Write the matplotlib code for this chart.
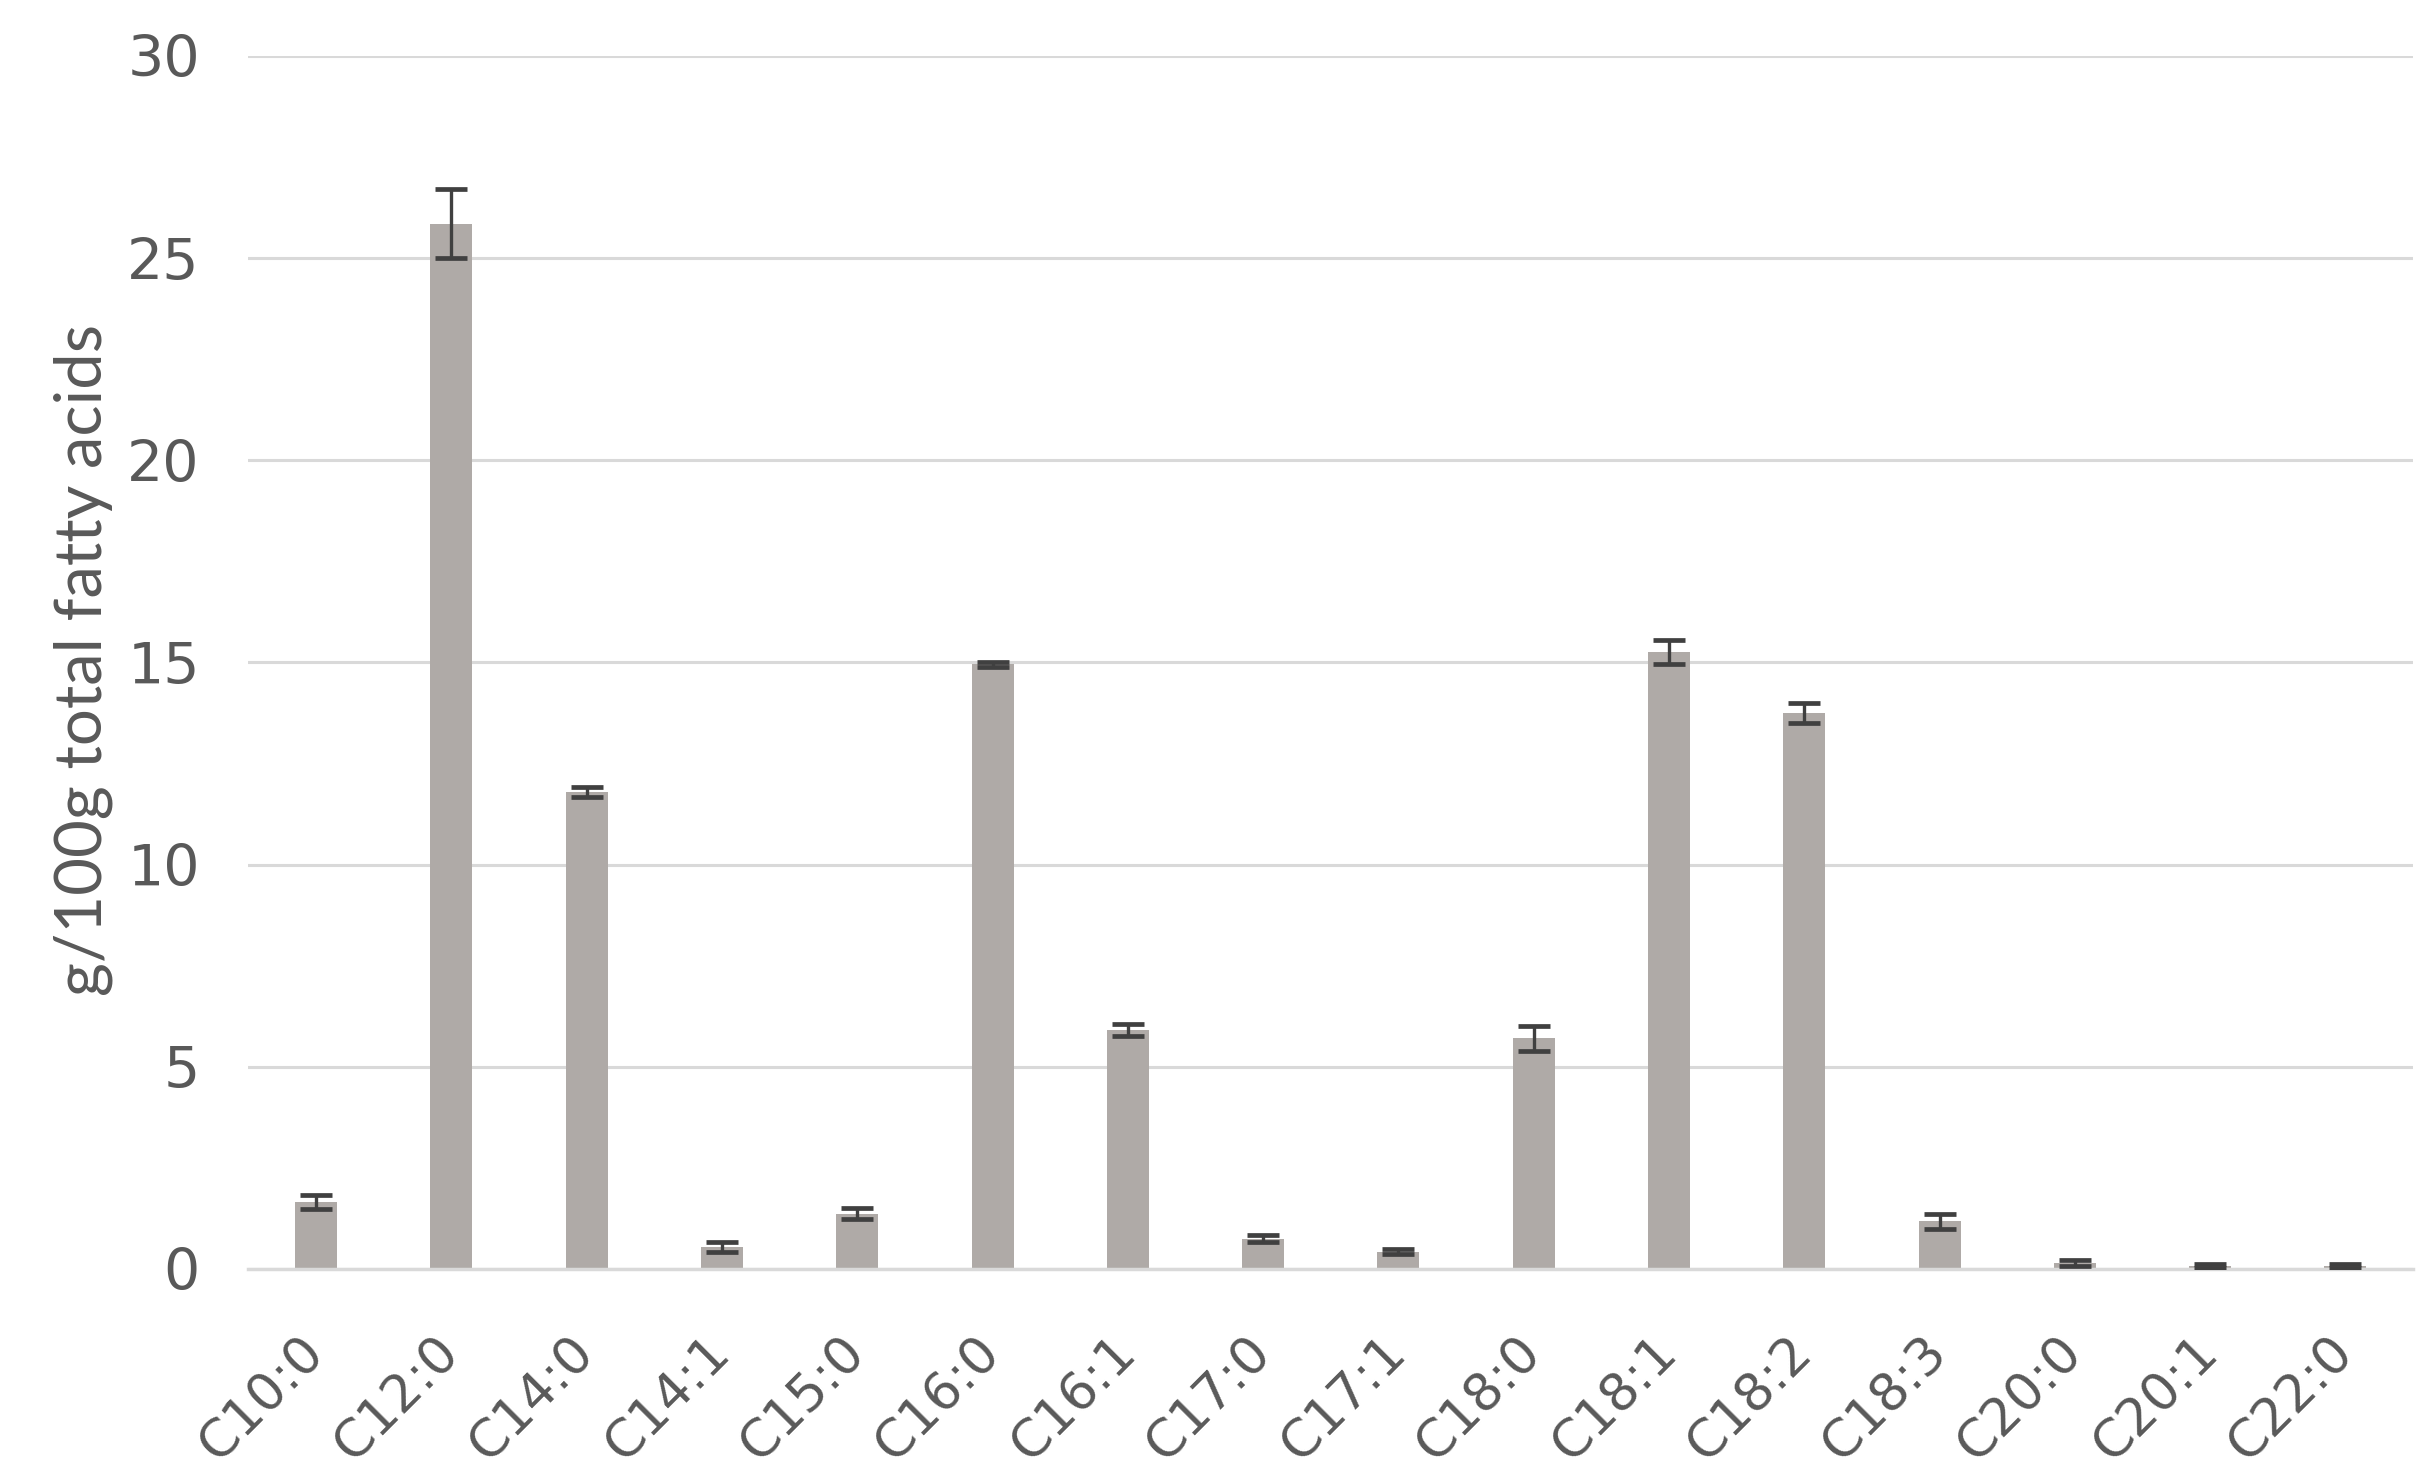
import matplotlib
matplotlib.use("Agg")
import matplotlib.pyplot as plt
import numpy as np

categories = ["C10:0", "C12:0", "C14:0", "C14:1", "C15:0", "C16:0", "C16:1", "C17:0",
              "C17:1", "C18:0", "C18:1", "C18:2", "C18:3", "C20:0", "C20:1", "C22:0"]
values = [1.65, 25.85, 11.8, 0.55, 1.37, 14.95, 5.9, 0.75,
          0.43, 5.7, 15.25, 13.75, 1.18, 0.15, 0.08, 0.08]
errors = [0.17, 0.85, 0.13, 0.12, 0.13, 0.05, 0.15, 0.08,
          0.07, 0.3, 0.3, 0.25, 0.18, 0.08, 0.05, 0.05]
yticks = [0, 5, 10, 15, 20, 25, 30]
ylabel = "g/100g total fatty acids"

text_color = "#595959"
grid_color = "#D9D9D9"
bar_color = "#AFAAA7"
err_color = "#404040"

fig = plt.figure(figsize=(24.36, 14.84), dpi=100)
ax = fig.add_axes([0.102, 0.1449, 0.8886, 0.8174])

x = np.arange(len(categories))
ax.bar(x, values, width=0.31, color=bar_color, zorder=2)
ax.errorbar(x, values, yerr=errors, fmt="none", ecolor=err_color,
            elinewidth=2.4, capsize=11.5, capthick=3.4, zorder=3)

ax.set_xlim(-0.5, len(categories) - 0.5)
ax.set_ylim(0, 30)
ax.set_yticks(yticks)
ax.set_yticklabels([str(t) for t in yticks], fontsize=41, color=text_color,
                   family="DejaVu Sans")
ax.set_xticks(x)
ax.set_xticklabels(categories, rotation=45, ha="right", va="center",
                   rotation_mode="anchor", fontsize=37.5, color=text_color,
                   family="DejaVu Sans")
ax.tick_params(axis="y", length=0, pad=35)
ax.tick_params(axis="x", length=0, pad=55)

ax.yaxis.grid(True, color=grid_color, linewidth=2.2, zorder=0)
ax.set_axisbelow(True)
for s in ["top", "right", "left"]:
    ax.spines[s].set_visible(False)
ax.spines["bottom"].set_color(grid_color)
ax.spines["bottom"].set_linewidth(2.5)

fig.text(83 / 2436, 1 - 660 / 1484, ylabel, rotation=90, ha="center", va="center",
         fontsize=47, color=text_color, family="Lato")

fig.savefig("out.png", dpi=100, facecolor="white")
